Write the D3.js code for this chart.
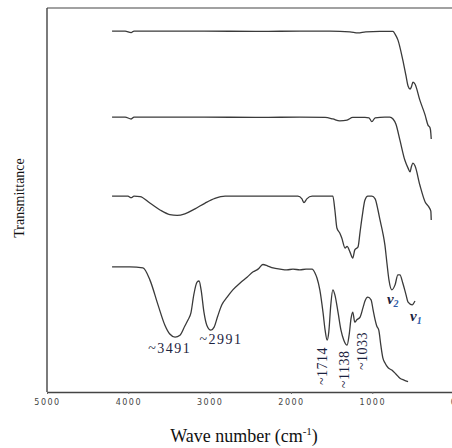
<!DOCTYPE html>
<html>
<head>
<meta charset="utf-8">
<script src="https://cdn.jsdelivr.net/npm/d3@7"></script>
<style>
  body { margin: 0; background: #fff; }
  svg { display: block; }
  .tick text { font-family: 'DejaVu Sans', sans-serif; font-size: 8px; letter-spacing: 1.5px; fill: #444; }
  .lbl { font-family: 'Liberation Serif', 'Times New Roman', serif; fill: #1c2340; }
</style>
</head>
<body>
<div id="chart"></div>
<script>
// wave numbers (cm-1) and transmittance (arbitrary, offset) per spectrum
const wn1 = [4200, 4040, 3965, 3930, 3120, 2380, 1890, 1520, 1275, 1175, 1080, 905, 745, 720, 685, 625, 585, 560, 535, 520, 500, 475, 415, 350, 315, 290, 280, 275]
const t1 = [94.0, 94.0, 93.6, 94.0, 94.0, 93.9, 94.0, 94.0, 93.8, 93.5, 93.8, 93.9, 93.9, 93.2, 91.7, 86.5, 82.3, 79.7, 78.9, 79.4, 80.7, 80.2, 76.0, 72.1, 69.5, 68.8, 67.4, 65.9]

const wn2 = [4200, 4040, 3965, 3930, 3120, 2380, 1890, 1580, 1485, 1400, 1310, 1240, 1090, 1040, 1005, 965, 845, 785, 745, 710, 660, 600, 560, 535, 520, 500, 475, 415, 350, 305, 280, 275]
const t2 = [71.6, 71.6, 71.1, 71.6, 71.6, 71.5, 71.6, 71.5, 71.1, 70.6, 70.8, 71.5, 71.5, 71.4, 70.4, 71.4, 71.6, 71.6, 71.1, 69.8, 65.6, 60.4, 58.3, 57.3, 58.6, 59.6, 58.9, 53.9, 49.5, 48.2, 47.1, 44.8]

const wn3 = [4200, 4005, 3965, 3930, 3855, 3735, 3610, 3490, 3400, 3305, 3180, 3055, 2935, 2810, 2380, 1915, 1865, 1840, 1805, 1740, 1485, 1460, 1435, 1400, 1375, 1335, 1310, 1275, 1240, 1215, 1175, 1150, 1125, 1090, 1055, 1005, 965, 930, 905, 870, 845, 820, 795, 760, 720, 685, 660, 625, 585, 560, 510, 475]
const t3 = [51.0, 51.0, 50.6, 51.0, 50.9, 49.2, 47.4, 46.2, 46.0, 46.4, 47.7, 49.2, 50.4, 51.0, 51.0, 51.0, 50.3, 49.3, 50.3, 51.0, 51.0, 47.4, 42.7, 41.4, 40.1, 37.5, 37.9, 36.5, 34.9, 37.0, 37.8, 41.7, 45.6, 50.0, 51.0, 51.0, 50.3, 47.4, 44.8, 41.4, 38.3, 33.6, 29.2, 26.6, 27.9, 30.5, 30.5, 28.4, 25.3, 23.4, 22.7, 23.7]

const wn4 = [4200, 3980, 3820, 3735, 3635, 3550, 3490, 3425, 3365, 3305, 3265, 3230, 3195, 3155, 3130, 3105, 3070, 3035, 2985, 2945, 2900, 2850, 2785, 2715, 2625, 2540, 2465, 2405, 2345, 2285, 2220, 2135, 2050, 1975, 1890, 1815, 1740, 1705, 1680, 1645, 1605, 1580, 1555, 1535, 1510, 1485, 1460, 1420, 1385, 1350, 1310, 1285, 1260, 1240, 1215, 1190, 1150, 1115, 1090, 1055, 1015, 990, 965, 945, 920, 895, 870, 845, 805, 760, 710, 660, 610, 560]
const t4 = [32.6, 32.6, 32.3, 29.2, 22.7, 17.4, 15.1, 14.3, 14.8, 17.2, 18.8, 20.6, 25.3, 28.6, 28.9, 26.6, 20.8, 17.4, 16.1, 16.9, 19.8, 22.7, 24.7, 26.6, 28.4, 29.9, 31.3, 32.0, 33.2, 32.8, 32.3, 32.0, 31.8, 32.0, 31.8, 32.0, 32.0, 31.0, 29.7, 26.6, 20.6, 16.1, 13.5, 15.6, 22.7, 26.6, 25.3, 20.6, 16.1, 13.5, 12.2, 14.8, 19.3, 20.8, 18.2, 18.8, 19.5, 21.9, 23.7, 24.7, 24.0, 21.4, 18.8, 17.2, 16.1, 12.2, 8.9, 7.6, 6.3, 5.7, 4.7, 3.6, 3.1, 2.7]

const xTicks = [5000, 4000, 3000, 2000, 1000, 0]

// band labels: text, wave number, transmittance
const flatLabels = [['~3491', 3490, 10.2], ['~2991', 2860, 12.5]]
const upLabels = [['~1714', 1555, 1.8], ['~1138', 1285, 1.0], ['~1033', 1065, 5.7]]
const nuLabels = [['2', 820, 22.9], ['1', 535, 18.5]]

const width = 452
const height = 448
const margin = { top: 8, left: 47, bottom: 56 }

const svg = d3.select('#chart').append('svg')
  .attr('width', width)
  .attr('height', height)

const x = d3.scaleLinear().domain([5000, 0]).range([margin.left, margin.left + 406.6])
const y = d3.scaleLinear().domain([0, 100]).range([height - margin.bottom, margin.top])

// frame: left and top lines, bottom axis
svg.append('line')
  .attr('x1', x(5000)).attr('x2', x(5000))
  .attr('y1', y(100)).attr('y2', y(0))
  .attr('stroke', '#444').attr('stroke-width', 1.4)
svg.append('line')
  .attr('x1', x(5000)).attr('x2', x(0))
  .attr('y1', y(100)).attr('y2', y(100))
  .attr('stroke', '#444').attr('stroke-width', 1.2)

const xAxis = svg.append('g')
  .attr('transform', 'translate(0,' + y(0) + ')')
  .call(d3.axisBottom(x).tickValues(xTicks).tickFormat(d3.format('d'))
    .tickSize(2).tickSizeOuter(0).tickPadding(5))
xAxis.select('.domain').attr('stroke', '#444').attr('stroke-width', 1.4)
xAxis.selectAll('.tick line').attr('stroke', '#666')

const line = d3.line()
  .x(d => x(d[0]))
  .y(d => y(d[1]))
  .curve(d3.curveMonotoneX)

const series = [[wn1, t1], [wn2, t2], [wn3, t3], [wn4, t4]]
series.forEach(([w, t]) => {
  svg.append('path')
    .datum(w.map((v, i) => [v, t[i]]))
    .attr('fill', 'none')
    .attr('stroke', '#3a3a3a')
    .attr('stroke-width', 1.3)
    .attr('d', line)
})

svg.selectAll('.flat').data(flatLabels).join('text')
  .attr('class', 'lbl')
  .attr('x', d => x(d[1]))
  .attr('y', d => y(d[2]))
  .attr('text-anchor', 'middle')
  .attr('font-size', 14)
  .attr('letter-spacing', 1.5)
  .text(d => d[0])

svg.selectAll('.up').data(upLabels).join('text')
  .attr('class', 'lbl')
  .attr('transform', d => 'translate(' + x(d[1]) + ',' + y(d[2]) + ') rotate(-90)')
  .attr('font-size', 14)
  .attr('letter-spacing', 0.5)
  .text(d => d[0])

const nu = svg.selectAll('.nu').data(nuLabels).join('text')
  .attr('class', 'lbl')
  .attr('x', d => x(d[1]))
  .attr('y', d => y(d[2]))
  .attr('font-size', 15)
  .attr('font-style', 'italic')
  .attr('font-weight', 'bold')
nu.append('tspan').text('ν')
nu.append('tspan').attr('font-size', 10).attr('dy', 3).attr('fill', '#2e5aa8').text(d => d[0])

// axis titles
const title = svg.append('text')
  .attr('x', 244)
  .attr('y', height - 6)
  .attr('text-anchor', 'middle')
  .attr('font-family', "'Liberation Serif', serif")
  .attr('font-size', 18)
  .attr('fill', '#111')
title.append('tspan').text('Wave number (cm')
title.append('tspan').attr('font-size', 11).attr('dy', -7).text('-1')
title.append('tspan').attr('dy', 7).text(')')

svg.append('text')
  .attr('transform', 'translate(24,' + 198 + ') rotate(-90)')
  .attr('text-anchor', 'middle')
  .attr('font-family', "'Liberation Serif', serif")
  .attr('font-size', 14)
  .attr('fill', '#111')
  .text('Transmittance')
</script>
</body>
</html>
